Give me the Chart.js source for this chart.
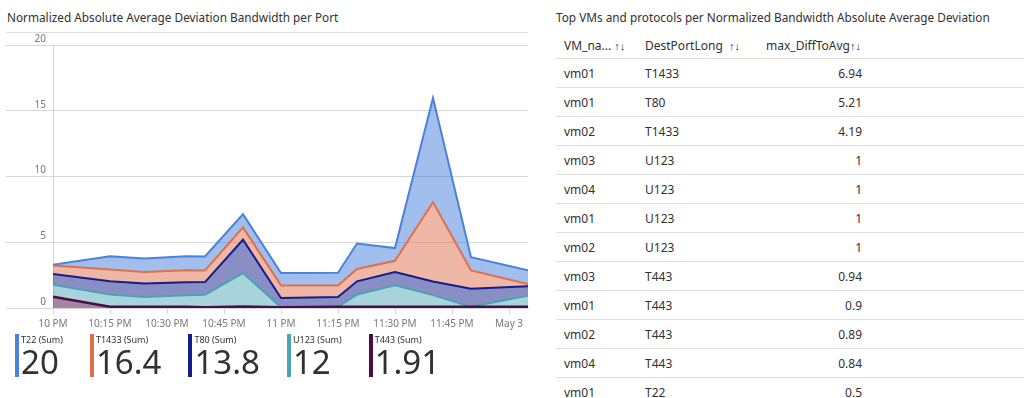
<!DOCTYPE html>
<html>
<head>
<meta charset="utf-8">
<script src="https://cdn.jsdelivr.net/npm/chart.js"></script>
<style>
  html, body { margin: 0; padding: 0; background: #fff; }
  body { width: 1024px; height: 398px; overflow: hidden; position: relative;
         font-family: "Segoe UI", "Noto Sans", sans-serif; color: #323130; }
  .title { position: absolute; top: 9px; font-size: 11.8px; white-space: nowrap; }
  #leftTitle { left: 7px; }
  #rightTitle { left: 556px; }
  .sep { position: absolute; left: 6px; top: 32px; width: 522px; border-top: 1px solid #e1dfdd; }
  #chartBox { position: absolute; left: 0; top: 30px; width: 540px; height: 305px; }
  #legend { position: absolute; left: 15px; top: 334px; display: flex; gap: 27px; }
  .item { display: flex; }
  .bar { width: 4px; height: 43px; margin-right: 2px; }
  .lbl { font-size: 9px; line-height: 12px; color: #323130; }
  .val { font-size: 33px; line-height: 32px; color: #323130; }
  #tbl { position: absolute; left: 556px; top: 33px; width: 468px; border-collapse: collapse; font-size: 12px; }
  #tbl th { font-weight: normal; text-align: left; height: 25px; padding: 0 0 0 8px; white-space: nowrap; }
  #tbl td { height: 28px; padding: 0 0 0 8px; border-top: 1px solid #e1dfdd; white-space: nowrap; }
  #tbl td.num { text-align: right; padding-right: 8px; }
  .arr { font-size: 11px; }
</style>
</head>
<body>
<div class="title" id="leftTitle">Normalized Absolute Average Deviation Bandwidth per Port</div>
<div class="sep"></div>
<div id="chartBox"><canvas id="bwChart"></canvas></div>
<div id="legend"></div>

<div class="title" id="rightTitle">Top VMs and protocols per Normalized Bandwidth Absolute Average Deviation</div>
<table id="tbl"></table>

<script>
// minutes after 10 PM
var minutes = [0, 15, 24, 35, 40, 50, 60, 75, 80, 90, 100, 110, 125];
var tickMinutes = [0, 15, 30, 45, 60, 75, 90, 105, 120];
var tickLabels = ['10 PM', '10:15 PM', '10:30 PM', '10:45 PM', '11 PM', '11:15 PM', '11:30 PM', '11:45 PM', 'May 3'];

var seriesNames = ['T443', 'U123', 'T80', 'T1433', 'T22'];
var t443  = [0.86, 0.09, 0.09, 0.09, 0.06, 0.12, 0.05, 0.09, 0.09, 0.09, 0.09, 0.09, 0.09];
var u123  = [0.91, 0.93, 0.75, 0.88, 0.95, 2.54, 0, 0, 0.93, 1.63, 0.89, 0, 0.85];
var t80   = [0.81, 1.01, 1.02, 0.98, 0.96, 2.53, 0.71, 0.74, 1.01, 1.01, 1.03, 1.37, 0.71];
var t1433 = [0.66, 0.89, 0.88, 0.93, 0.89, 0.94, 0.96, 0.88, 0.94, 0.86, 6.03, 1.40, 0.18];
var t22   = [0.05, 1.01, 1.02, 1.05, 1.06, 1.01, 0.94, 0.97, 1.93, 0.97, 7.93, 1.01, 1.04];

// legend tiles, in display order
var legendNames = ['T22 (Sum)', 'T1433 (Sum)', 'T80 (Sum)', 'U123 (Sum)', 'T443 (Sum)'];
var legendTotals = ['20', '16.4', '13.8', '12', '1.91'];

// table
var vmNames   = ['vm01', 'vm01', 'vm02', 'vm03', 'vm04', 'vm01', 'vm02', 'vm03', 'vm01', 'vm02', 'vm04', 'vm01'];
var destPorts = ['T1433', 'T80', 'T1433', 'U123', 'U123', 'U123', 'U123', 'T443', 'T443', 'T443', 'T443', 'T22'];
var maxDiff   = ['6.94', '5.21', '4.19', '1', '1', '1', '1', '0.94', '0.9', '0.89', '0.84', '0.5'];

var lineColors = ['#4b0d45', '#4ba3b3', '#141d8c', '#e0704c', '#4a82dc'];
var fillColors = ['rgba(75,13,69,0.5)', 'rgba(75,163,179,0.47)', 'rgba(20,29,140,0.5)', 'rgba(224,112,76,0.5)', 'rgba(74,130,220,0.52)'];
var legendColors = ['#4a82dc', '#e0704c', '#141d8c', '#4ba3b3', '#4b0d45'];

var allValues = [t443, u123, t80, t1433, t22];

function points(vals) {
    return vals.map(function (v, i) { return { x: minutes[i], y: v }; });
}

Chart.defaults.font.family = '"Segoe UI", "Noto Sans", sans-serif';
Chart.defaults.color = '#7a7876';

var datasets = allValues.map(function (vals, i) {
    return {
        label: seriesNames[i],
        data: points(vals),
        borderColor: lineColors[i],
        backgroundColor: fillColors[i],
        borderWidth: i === 0 ? 2.5 : 2,
        pointRadius: 0,
        tension: 0,
        fill: i === 0 ? 'origin' : '-1'
    };
});

var ctx = document.getElementById('bwChart').getContext('2d');
var bwChart = new Chart(ctx, {
    type: 'line',
    data: { datasets: datasets },
    options: {
        responsive: true,
        maintainAspectRatio: false,
        animation: false,
        layout: { padding: { top: 15, right: 12, left: 0, bottom: 0 } },
        plugins: { legend: { display: false }, tooltip: { enabled: false } },
        scales: {
            x: {
                type: 'linear',
                min: 0,
                max: 125,
                afterBuildTicks: function (axis) {
                    axis.ticks = tickMinutes.map(function (v) { return { value: v }; });
                },
                afterFit: function (axis) { axis.height = 27; },
                grid: { drawOnChartArea: false, tickLength: 6, color: '#d6d6d6' },
                border: { color: '#d6d6d6' },
                ticks: {
                    autoSkip: false,
                    maxRotation: 0,
                    padding: 4,
                    font: { size: 10 },
                    callback: function (value) {
                        var i = tickMinutes.indexOf(value);
                        return i >= 0 ? tickLabels[i] : '';
                    }
                }
            },
            y: {
                stacked: true,
                min: 0,
                max: 20,
                afterFit: function (axis) { axis.width = 53; },
                grid: { tickLength: 47, color: '#d6d6d6' },
                border: { color: '#d6d6d6' },
                ticks: { stepSize: 5, padding: -40, labelOffset: -6, font: { size: 10 } }
            }
        }
    }
});

// legend tiles
var legend = document.getElementById('legend');
legendNames.forEach(function (name, i) {
    var item = document.createElement('div');
    item.className = 'item';
    item.innerHTML = '<div class="bar" style="background:' + legendColors[i] + '"></div>' +
        '<div><div class="lbl">' + name + '</div><div class="val">' + legendTotals[i] + '</div></div>';
    legend.appendChild(item);
});

// table
var tbl = document.getElementById('tbl');
var html = '<colgroup><col style="width:81px"><col style="width:121px"><col style="width:112px"><col></colgroup>' +
    '<tr><th>VM_na... <span class="arr">↑↓</span></th><th>DestPortLong &nbsp;<span class="arr">↑↓</span></th>' +
    '<th>max_DiffToAvg<span class="arr">↑↓</span></th><th></th></tr>';
for (var r = 0; r < vmNames.length; r++) {
    html += '<tr><td>' + vmNames[r] + '</td><td>' + destPorts[r] + '</td><td class="num">' + maxDiff[r] + '</td><td></td></tr>';
}
tbl.innerHTML = html;
</script>
</body>
</html>
